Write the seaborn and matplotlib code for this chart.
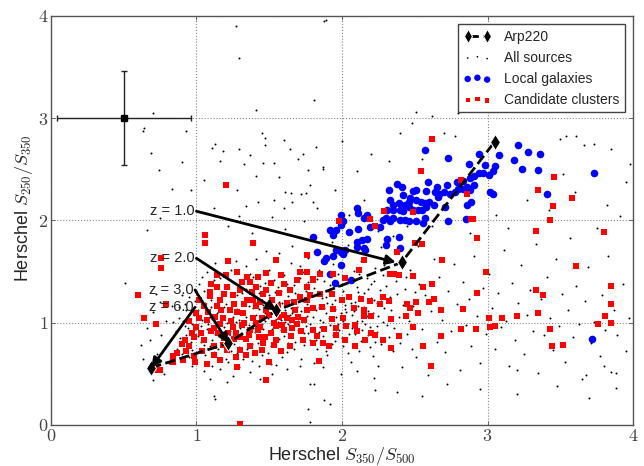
import numpy as np
import matplotlib
matplotlib.use("Agg")
import matplotlib.pyplot as plt
import seaborn as sns

# Arp220 redshift track (S350/S500, S250/S350)
arp_x = [0.69, 1.22, 1.55, 2.41, 3.05]
arp_y = [0.56, 0.80, 1.12, 1.59, 2.77]

# redshift labels: (label, start, end) of arrows
z_labels = ["z = 1.0", "z = 2.0", "z = 3.0", "z = 6.0"]
z_start = [(1.0, 2.09), (1.0, 1.63), (0.99, 1.32), (0.99, 1.15)]
z_end = [(2.37, 1.59), (1.55, 1.12), (1.22, 0.80), (0.69, 0.56)]

# typical error bar
err_pt = (0.50, 3.00)
err_xy = (0.46, 0.46)

local_galaxies = [
    (2.57, 2.69), (2.73, 2.61), (2.94, 2.65), (3.08, 2.64), (3.18, 2.59), (2.87, 2.55), (2.98, 2.54),
    (3.05, 2.53), (3.04, 2.48), (3.01, 2.44), (2.97, 2.46), (2.94, 2.46), (2.91, 2.43), (2.88, 2.41),
    (2.83, 2.39), (2.79, 2.38), (2.72, 2.35), (2.65, 2.33), (2.59, 2.38), (2.51, 2.30), (2.49, 2.29),
    (2.58, 2.29), (2.64, 2.28), (2.67, 2.26), (2.70, 2.28), (2.74, 2.26), (2.78, 2.28), (2.80, 2.31),
    (2.83, 2.31), (2.86, 2.33), (2.88, 2.30), (2.91, 2.35), (3.02, 2.28), (3.04, 2.26), (2.89, 2.18),
    (2.86, 2.15), (2.66, 2.23), (2.60, 2.18), (2.57, 2.17), (2.54, 2.18), (2.51, 2.20), (2.47, 2.22),
    (2.42, 2.25), (2.38, 2.36), (2.32, 2.30), (2.41, 2.33), (2.46, 2.18), (2.43, 2.15), (2.39, 2.17),
    (2.35, 2.15), (2.33, 2.20), (2.31, 2.10), (2.35, 2.10), (2.40, 2.10), (2.42, 2.09), (2.46, 2.13),
    (2.49, 2.10), (2.52, 2.10), (2.55, 2.10), (2.58, 2.13), (2.63, 2.15), (2.71, 2.13), (2.73, 1.99),
    (2.85, 2.01), (2.57, 2.02), (2.56, 1.97), (2.51, 1.99), (2.46, 1.99), (2.43, 2.00), (2.40, 2.00),
    (2.35, 2.02), (2.33, 1.99), (2.30, 2.02), (2.26, 1.94), (2.28, 2.00), (2.19, 1.94), (2.17, 2.05),
    (2.15, 2.02), (2.11, 2.07), (2.10, 2.12), (1.99, 2.05), (2.01, 1.99), (1.99, 1.96), (1.92, 1.91),
    (1.94, 1.86), (1.96, 1.91), (2.05, 1.89), (2.11, 1.92), (2.14, 1.81), (2.17, 1.82), (2.10, 1.79),
    (2.16, 1.71), (2.15, 1.73), (2.10, 1.74), (2.02, 1.71), (1.99, 1.69), (1.96, 1.71), (2.01, 1.67),
    (1.94, 1.65), (1.88, 1.60), (1.89, 1.63), (1.80, 1.84), (1.83, 1.69), (1.99, 1.56), (1.92, 1.48),
    (2.31, 1.82), (2.39, 1.84), (2.30, 1.76), (2.40, 1.73), (3.21, 2.74), (3.28, 2.67), (3.36, 2.65),
    (3.24, 2.50), (3.35, 2.49), (3.41, 2.26), (3.73, 2.46), (3.72, 0.84), (1.95, 1.39), (2.06, 1.42),
]

candidate_clusters = [
    (1.06, 1.86), (1.06, 1.78), (0.76, 1.63), (0.76, 1.53), (0.64, 1.05), (0.72, 0.99), (1.39, 1.78),
    (1.55, 1.61), (1.76, 1.66), (1.71, 1.50), (1.80, 1.43), (1.14, 1.47), (1.20, 1.47), (1.28, 1.50),
    (1.35, 1.45), (1.42, 1.45), (1.48, 1.49), (1.51, 1.39), (1.41, 1.35), (1.30, 1.32), (1.25, 1.27),
    (1.35, 1.22), (1.16, 1.22), (1.09, 1.26), (1.05, 1.16), (1.14, 1.16), (1.23, 1.12), (1.32, 1.09),
    (1.41, 1.16), (1.48, 1.12), (1.57, 1.06), (1.62, 1.19), (1.71, 1.25), (1.76, 1.12), (1.69, 0.99),
    (1.60, 0.93), (1.51, 0.90), (1.44, 0.96), (1.37, 0.93), (1.30, 0.86), (1.25, 0.96), (1.16, 0.99),
    (1.07, 1.03), (1.00, 0.96), (0.98, 0.86), (1.05, 0.83), (1.12, 0.77), (1.21, 0.73), (1.30, 0.73),
    (1.37, 0.77), (1.46, 0.80), (1.55, 0.83), (1.64, 0.77), (1.73, 0.83), (1.80, 0.93), (0.84, 0.67),
    (0.91, 0.64), (0.98, 0.67), (1.07, 0.60), (1.16, 0.64), (1.28, 0.57), (0.75, 0.54), (1.48, 0.44),
    (1.80, 0.80), (1.02, 1.22), (1.00, 1.09), (1.21, 1.35), (1.14, 1.35), (1.57, 1.29), (1.39, 1.22),
    (1.64, 1.32), (1.76, 1.35), (0.60, 1.27), (0.79, 1.18), (0.99, 0.62), (1.30, 0.01), (0.90, 0.79),
    (0.84, 0.62), (0.72, 0.54), (0.92, 0.83), (0.87, 0.70), (1.20, 2.35), (2.62, 2.80), (2.54, 2.48),
    (2.82, 2.40), (2.86, 2.26), (2.89, 2.01), (2.93, 1.83), (1.98, 1.99), (2.19, 2.01), (2.29, 2.09),
    (2.49, 2.08), (2.23, 1.95), (3.35, 2.30), (3.46, 2.42), (3.58, 2.22), (3.45, 2.14), (3.43, 2.00),
    (3.33, 1.90), (3.80, 1.89), (2.69, 1.61), (2.99, 1.50), (3.61, 1.55), (3.85, 1.36), (3.33, 1.32),
    (3.38, 1.27), (2.93, 1.29), (2.83, 1.13), (2.68, 1.12), (2.63, 1.23), (2.56, 1.35), (2.62, 1.38),
    (2.49, 1.46), (2.60, 1.20), (2.51, 1.20), (2.45, 1.18), (2.47, 1.14), (2.52, 1.09), (2.44, 1.07),
    (2.34, 1.04), (2.32, 1.21), (2.26, 1.18), (2.28, 1.25), (2.20, 1.07), (2.15, 1.12), (2.19, 1.21),
    (2.13, 1.23), (3.01, 1.05), (3.10, 1.05), (3.20, 1.07), (3.35, 1.09), (3.76, 0.99), (3.85, 1.00),
    (3.81, 1.07), (3.85, 1.18), (3.43, 0.94), (3.44, 0.77), (3.52, 0.78), (3.02, 0.96), (3.05, 0.97),
    (2.92, 0.94), (2.82, 0.94), (2.68, 0.87), (2.56, 0.77), (2.61, 0.58), (2.49, 0.96), (2.39, 0.87),
    (2.34, 0.75), (2.28, 0.83), (2.23, 0.88), (2.20, 0.90), (2.16, 0.83), (2.10, 0.92), (2.09, 0.77),
    (2.02, 0.83), (1.96, 0.88), (1.91, 0.77), (1.84, 0.63), (1.87, 0.80), (1.83, 0.87), (1.88, 0.94),
    (1.96, 0.95), (2.03, 0.97), (2.09, 0.98), (2.15, 1.07), (2.08, 1.14), (2.01, 1.05), (1.94, 1.13),
    (1.93, 1.04), (1.86, 1.15), (1.80, 1.14), (1.76, 1.22), (1.78, 1.27), (1.85, 1.28), (1.93, 1.28),
    (2.00, 1.22), (2.05, 1.25), (2.33, 1.48), (2.36, 1.48), (2.39, 1.47), (2.15, 1.61), (2.12, 1.52),
    (2.02, 1.44), (1.94, 1.48), (1.85, 1.48), (1.76, 1.50), (1.80, 1.42), (2.50, 1.78), (2.55, 1.77),
    (2.38, 1.69), (2.42, 1.59), (2.90, 2.01), (1.10, 0.92), (1.18, 1.05), (1.26, 1.18), (1.33, 1.00),
    (1.45, 1.05), (1.53, 1.00), (1.60, 1.08), (1.68, 1.12), (1.72, 0.92), (1.65, 0.87), (1.43, 0.86),
    (1.34, 0.84), (1.19, 0.85), (1.27, 0.66), (1.40, 0.70), (1.58, 0.72), (1.52, 1.22), (1.60, 1.38),
    (1.69, 1.42), (1.37, 1.40), (1.22, 1.60), (1.10, 1.38), (1.04, 0.72), (0.95, 1.02), (0.93, 0.72),
    (1.46, 1.28), (1.66, 1.03), (1.13, 1.06), (1.55, 0.97), (1.50, 0.62),
    (1.03, 0.90), (1.08, 1.10), (1.12, 0.95), (1.17, 1.12), (1.22, 0.90), (1.24, 1.02), (1.28, 1.10),
    (1.31, 0.98), (1.33, 1.18), (1.36, 0.88), (1.39, 1.05), (1.42, 0.93), (1.44, 1.20), (1.47, 0.86),
    (1.50, 1.08), (1.53, 0.78), (1.56, 1.16), (1.59, 0.98), (1.62, 1.05), (1.66, 0.95), (1.70, 1.06),
    (1.18, 0.78), (1.26, 0.84), (1.34, 0.68), (1.45, 0.73), (1.02, 1.05), (0.97, 0.90), (1.09, 1.30),
    (1.19, 1.28), (1.31, 1.40), (1.48, 1.32), (1.58, 1.47), (1.67, 1.20), (1.74, 1.03), (1.12, 0.68),
    (0.95, 0.77), (1.38, 1.30), (1.27, 0.90), (1.15, 0.90), (1.41, 1.00),
]

all_sources = [
    # dense core, x 0.85 - 1.3
    (0.86, 0.92), (0.88, 1.05), (0.91, 0.78), (0.93, 1.12), (0.95, 0.66), (0.97, 0.99), (0.99, 1.21),
    (1.01, 0.87), (1.02, 0.72), (1.04, 1.03), (1.05, 1.31), (1.07, 0.94), (1.08, 0.61), (1.10, 1.15),
    (1.11, 0.83), (1.12, 1.42), (1.14, 0.97), (1.15, 0.74), (1.16, 1.24), (1.18, 0.88), (1.19, 1.07),
    (1.20, 0.65), (1.22, 1.36), (1.23, 0.92), (1.24, 1.14), (1.26, 0.79), (1.27, 1.01), (1.28, 1.27),
    (1.29, 0.57), (1.30, 0.95), (0.89, 0.85), (0.92, 1.18), (0.94, 0.95), (0.96, 0.81), (0.98, 1.08),
    (1.00, 0.70), (1.03, 0.97), (1.06, 1.19), (1.09, 0.77), (1.11, 1.04), (1.13, 0.89), (1.17, 1.01),
    (1.21, 0.83), (1.25, 1.06), (1.28, 0.70), (1.31, 1.17), (0.84, 1.01), (0.87, 0.74), (0.90, 1.27),
    (1.02, 1.38), (1.07, 1.50), (1.13, 1.58), (1.18, 1.46), (1.24, 1.52), (1.05, 0.53), (1.16, 0.55),
    (1.25, 0.48), (0.97, 0.58), (1.21, 0.42), (1.09, 0.45),
    # dense core, x 1.3 - 1.8
    (1.32, 0.86), (1.33, 1.10), (1.34, 1.33), (1.35, 0.74), (1.36, 0.98), (1.37, 1.21), (1.38, 0.63),
    (1.39, 1.45), (1.40, 0.91), (1.41, 1.08), (1.42, 0.80), (1.43, 1.29), (1.44, 1.02), (1.45, 0.68),
    (1.46, 1.17), (1.47, 1.39), (1.48, 0.88), (1.49, 1.05), (1.50, 1.52), (1.51, 0.77), (1.52, 1.24),
    (1.53, 0.96), (1.54, 1.11), (1.55, 0.59), (1.56, 1.35), (1.57, 0.84), (1.58, 1.03), (1.59, 1.19),
    (1.60, 1.47), (1.61, 0.92), (1.62, 0.71), (1.63, 1.26), (1.64, 1.08), (1.65, 1.58), (1.66, 0.97),
    (1.67, 1.37), (1.68, 0.81), (1.69, 1.15), (1.70, 1.02), (1.71, 1.44), (1.72, 0.65), (1.73, 1.21),
    (1.74, 0.90), (1.75, 1.31), (1.76, 1.07), (1.77, 1.63), (1.78, 0.83), (1.79, 1.16), (1.34, 1.55),
    (1.37, 0.52), (1.41, 1.62), (1.44, 0.45), (1.48, 1.70), (1.52, 0.50), (1.57, 1.68), (1.62, 0.55),
    (1.66, 1.75), (1.71, 0.58), (1.36, 1.16), (1.39, 0.95), (1.43, 1.13), (1.46, 0.94), (1.51, 1.14),
    (1.54, 1.30), (1.58, 0.93), (1.61, 1.12), (1.65, 1.22), (1.68, 1.00), (1.72, 1.11), (1.75, 0.97),
    (1.78, 1.25), (1.33, 0.98), (1.47, 1.02), (1.56, 1.01), (1.63, 0.99), (1.70, 1.28), (1.73, 1.50),
    (1.77, 1.40),
    # dense core, x 1.8 - 2.3
    (1.80, 0.95), (1.81, 1.34), (1.82, 1.12), (1.83, 0.74), (1.84, 1.52), (1.85, 1.03), (1.86, 1.24),
    (1.87, 0.87), (1.88, 1.41), (1.89, 1.09), (1.90, 0.68), (1.91, 1.30), (1.92, 0.98), (1.93, 1.18),
    (1.94, 1.57), (1.95, 0.82), (1.96, 1.06), (1.97, 1.36), (1.98, 0.93), (1.99, 1.21), (2.00, 1.66),
    (2.01, 0.77), (2.02, 1.13), (2.03, 1.45), (2.04, 0.99), (2.05, 1.27), (2.06, 0.62), (2.07, 1.08),
    (2.08, 1.51), (2.09, 0.89), (2.10, 1.35), (2.11, 1.16), (2.12, 0.72), (2.13, 1.60), (2.14, 1.02),
    (2.15, 1.29), (2.16, 0.85), (2.17, 1.44), (2.18, 1.11), (2.19, 0.96), (2.20, 1.38), (2.21, 0.67),
    (2.22, 1.22), (2.23, 1.53), (2.24, 0.91), (2.25, 1.07), (2.26, 1.32), (2.27, 0.79), (2.28, 1.47),
    (2.29, 1.14), (1.82, 1.71), (1.87, 0.57), (1.93, 1.79), (1.99, 0.50), (2.04, 1.76), (2.10, 0.53),
    (2.16, 1.68), (2.22, 0.46), (2.27, 1.74), (1.84, 0.91), (1.89, 1.25), (1.95, 1.13), (2.01, 1.02),
    (2.06, 1.19), (2.12, 1.26), (2.18, 0.88), (2.24, 1.19), (1.83, 1.43), (1.97, 1.48), (2.09, 1.42),
    # dense core, second pass
    (0.91, 1.02), (0.93, 0.88), (0.95, 1.25), (0.97, 0.73), (0.99, 0.94), (1.01, 1.12), (1.03, 0.81),
    (1.04, 1.45), (1.06, 0.68), (1.08, 0.99), (1.10, 1.22), (1.12, 0.71), (1.14, 1.09), (1.15, 1.35),
    (1.17, 0.80), (1.19, 0.96), (1.20, 1.18), (1.22, 0.62), (1.23, 1.04), (1.25, 1.40), (1.26, 0.89),
    (1.28, 1.13), (1.29, 0.76), (1.31, 1.29), (1.32, 0.65), (1.34, 1.06), (1.35, 0.92), (1.37, 1.48),
    (1.38, 0.79), (1.40, 1.20), (1.41, 0.97), (1.43, 0.58), (1.44, 1.36), (1.46, 0.83), (1.47, 1.09),
    (1.49, 0.70), (1.50, 1.27), (1.52, 0.94), (1.53, 1.42), (1.55, 0.81), (1.56, 1.07), (1.58, 1.31),
    (1.59, 0.66), (1.61, 1.01), (1.62, 1.38), (1.64, 0.87), (1.65, 1.14), (1.67, 0.74), (1.68, 1.29),
    (1.70, 0.93), (1.71, 1.55), (1.73, 1.04), (1.74, 0.78), (1.76, 1.18), (1.77, 0.90), (1.79, 1.44),
    (1.80, 1.06), (1.82, 0.83), (1.83, 1.27), (1.85, 0.96), (1.86, 1.61), (1.88, 1.14), (1.89, 0.72),
    (1.91, 1.05), (1.92, 1.37), (1.94, 0.88), (1.95, 1.22), (1.97, 0.99), (1.98, 1.55), (2.00, 0.85),
    (2.01, 1.31), (2.03, 1.10), (2.04, 0.70), (2.06, 1.41), (2.07, 0.95), (2.09, 1.20), (2.10, 1.02),
    (2.12, 1.48), (2.13, 0.82), (2.15, 1.15), (2.16, 0.99), (2.18, 1.33), (2.19, 0.76), (2.21, 1.09),
    (2.22, 1.41), (2.24, 0.97), (2.25, 0.58), (2.27, 1.21), (2.28, 1.01), (2.30, 1.36), (2.32, 0.86),
    (2.34, 1.12), (2.36, 0.95), (2.38, 1.28), (2.40, 0.80), (2.42, 1.17), (2.44, 1.45), (2.46, 1.02),
    (2.48, 0.74), (2.50, 1.30), (0.88, 1.15), (0.90, 0.69), (0.92, 0.97), (1.00, 1.31), (1.05, 0.78),
    (1.11, 0.58), (1.16, 1.44), (1.21, 1.00), (1.27, 1.60), (1.33, 0.85), (1.39, 1.14), (1.45, 0.99),
    (1.51, 0.60), (1.57, 1.20), (1.63, 0.80), (1.69, 1.06), (1.75, 1.38), (1.81, 0.61), (1.87, 1.01),
    (1.93, 0.79), (1.99, 1.09), (2.05, 0.89), (2.11, 1.30), (2.17, 1.07), (2.23, 0.81), (2.29, 1.56),
    (1.24, 0.72), (1.36, 1.24), (1.48, 1.17), (1.60, 0.87), (1.72, 1.24), (1.84, 1.15), (1.96, 0.91),
    (2.08, 1.11), (2.20, 1.24), (2.32, 1.04), (1.09, 1.06), (1.19, 1.15), (1.29, 1.03), (1.42, 1.23),
    (1.54, 1.03), (1.66, 1.09), (1.78, 0.99), (1.90, 1.19), (2.02, 1.17), (2.14, 0.93),
    # right halo
    (2.31, 0.98), (2.33, 1.25), (2.35, 0.72), (2.37, 1.41), (2.39, 1.06), (2.41, 0.57), (2.43, 1.33),
    (2.45, 0.89), (2.47, 1.52), (2.49, 1.16), (2.51, 0.66), (2.53, 1.38), (2.55, 0.94), (2.57, 1.27),
    (2.59, 0.49), (2.61, 1.11), (2.63, 1.62), (2.65, 0.81), (2.67, 1.45), (2.69, 1.03), (2.71, 0.71),
    (2.73, 1.31), (2.75, 0.92), (2.77, 1.57), (2.79, 1.18), (2.81, 0.54), (2.83, 1.40), (2.85, 0.98),
    (2.87, 1.23), (2.89, 0.77), (2.91, 1.65), (2.93, 1.07), (2.95, 0.61), (2.97, 1.34), (2.99, 0.89),
    (3.01, 1.48), (3.03, 1.14), (3.05, 0.74), (3.07, 1.29), (3.09, 0.96), (3.11, 1.71), (3.13, 1.02),
    (3.15, 0.58), (3.17, 1.39), (3.19, 0.83), (3.21, 1.19), (3.23, 1.56), (3.25, 0.69), (3.27, 1.08),
    (3.29, 1.32), (3.31, 0.92), (3.33, 1.77), (3.35, 0.51), (3.37, 1.23), (3.39, 0.88), (3.41, 1.45),
    (3.43, 1.05), (3.45, 0.73), (3.47, 1.62), (3.49, 0.97), (3.51, 1.28), (3.53, 0.62), (3.55, 1.12),
    (3.57, 1.83), (3.59, 0.86), (3.61, 1.36), (3.63, 0.99), (3.65, 0.45), (3.67, 1.21), (3.69, 1.54),
    (3.71, 0.80), (3.73, 1.01), (3.75, 1.93), (3.77, 0.67), (3.79, 1.27), (3.81, 0.93), (3.83, 1.65),
    (3.85, 0.52), (3.87, 1.12), (3.89, 0.88), (3.91, 2.04), (3.93, 1.38), (3.95, 0.72), (3.97, 1.05),
    (2.38, 0.32), (2.55, 0.28), (2.72, 0.40), (2.95, 0.35), (3.20, 0.30), (3.48, 0.38), (3.70, 0.26),
    (3.88, 0.36), (2.62, 1.95), (2.88, 1.88), (3.14, 1.93), (3.42, 2.10), (3.60, 2.28), (3.82, 2.15),
    (3.95, 2.38), (3.52, 2.45), (3.27, 2.20), (3.06, 2.05), (3.73, 2.75), (3.85, 2.70), (3.50, 2.80),
    (3.98, 2.55), (3.54, 2.83), (3.61, 2.83), (3.66, 2.74), (3.68, 0.49), (3.80, 0.58), (3.88, 0.51),
    (3.20, 0.54),
    # upper region
    (1.05, 2.40), (1.12, 2.12), (1.18, 2.68), (1.22, 1.95), (1.28, 2.30), (1.33, 2.55), (1.38, 1.88),
    (1.42, 2.18), (1.47, 2.74), (1.52, 2.03), (1.57, 2.42), (1.61, 1.92), (1.65, 2.27), (1.70, 2.60),
    (1.74, 1.99), (1.78, 2.35), (1.83, 2.12), (1.87, 2.52), (1.91, 1.93), (1.95, 2.30), (2.00, 2.78),
    (2.05, 2.05), (2.10, 2.48), (2.15, 2.20), (2.20, 2.65), (2.25, 1.90), (2.32, 2.58), (2.40, 2.85),
    (2.48, 2.95), (2.55, 2.60), (2.62, 3.02), (2.70, 2.85), (2.80, 3.05), (2.35, 1.85), (2.45, 1.95),
    (2.52, 1.75), (2.51, 3.06), (2.78, 2.83), (1.89, 3.96),
    # sparse left and top
    (0.70, 3.05), (0.63, 2.87), (0.64, 2.90), (0.69, 2.66), (0.74, 2.49), (0.83, 2.31), (0.90, 2.57),
    (0.93, 2.87), (0.96, 2.30), (0.75, 2.02), (0.66, 1.91), (1.27, 3.90), (1.29, 3.59), (1.81, 3.18),
    (1.41, 3.08), (1.11, 2.71), (1.13, 2.75), (1.16, 2.58), (1.29, 2.70), (1.37, 2.64), (1.45, 2.85),
    (1.47, 2.81), (1.60, 2.79), (1.64, 2.70), (1.73, 2.65), (1.82, 2.72), (1.88, 3.95), (1.46, 2.56),
    (1.53, 2.56), (1.77, 2.49), (1.87, 2.50), (1.41, 2.43), (1.61, 2.28), (1.72, 2.26), (1.75, 2.27),
    (1.80, 2.18), (1.66, 2.18), (1.53, 2.20), (1.60, 2.12), (1.34, 2.14), (1.29, 2.04),
    # sparse left and bottom
    (0.51, 1.39), (0.63, 0.65), (0.70, 0.44), (1.12, 0.28), (1.13, 0.25), (1.78, 0.03), (1.77, 0.16),
    (1.92, 0.21), (1.88, 0.24), (1.78, 0.40), (1.81, 0.40), (2.23, 0.34), (0.62, 0.78), (0.66, 0.95),
    (0.70, 1.10), (0.73, 0.69), (0.76, 0.88), (0.79, 1.02), (0.81, 0.61), (0.83, 1.16), (0.72, 1.28),
    (0.78, 0.50), (0.68, 0.83), (0.75, 1.20),
]


def main():
    sns.set_style("ticks", {"xtick.direction": "in", "ytick.direction": "in"})
    plt.rcParams["mathtext.fontset"] = "cm"
    plt.rcParams["font.family"] = ["Liberation Sans", "DejaVu Sans"]

    fig = plt.figure(figsize=(6.44, 4.66), dpi=100)
    ax = fig.add_axes([0.079, 0.088, 0.904, 0.878])

    src = np.array(all_sources)
    gal = np.array(local_galaxies)
    clu = np.array(candidate_clusters)

    sns.scatterplot(x=src[:, 0], y=src[:, 1], ax=ax, color="k", s=2, marker="o",
                    linewidth=0, zorder=2, legend=False)
    h_src = ax.collections[-1]
    sns.scatterplot(x=gal[:, 0], y=gal[:, 1], ax=ax, color="#0000ff", s=30, marker="o",
                    linewidth=0, zorder=3, legend=False)
    h_gal = ax.collections[-1]
    sns.scatterplot(x=clu[:, 0], y=clu[:, 1], ax=ax, color="#ff0000", s=13, marker="s",
                    linewidth=0, zorder=4, legend=False)
    h_clu = ax.collections[-1]

    # Arp220 track
    sns.lineplot(x=arp_x, y=arp_y, ax=ax, sort=False, estimator=None, color="k",
                 linestyle="--", linewidth=2, marker="d", markersize=8, zorder=6)
    h_arp = ax.lines[-1]

    # redshift arrows
    for lab, (x0, y0), (x1, y1) in zip(z_labels, z_start, z_end):
        ax.annotate("", xy=(x1, y1), xytext=(x0, y0),
                    arrowprops=dict(arrowstyle="-|>", color="k", lw=2,
                                    mutation_scale=14, shrinkA=0, shrinkB=0),
                    zorder=7)
        ax.text(x0 - 0.01, y0, lab, ha="right", va="center", fontsize=10.5, zorder=8)

    # typical error bar
    ax.errorbar(err_pt[0], err_pt[1], xerr=err_xy[0], yerr=err_xy[1], fmt="s",
                color="k", ms=4, ecolor="#222222", elinewidth=1, capsize=2.5, capthick=1)

    ax.set_xlim(0, 4)
    ax.set_ylim(0, 4)
    ticks = [0, 1, 2, 3, 4]
    ax.set_xticks(ticks)
    ax.set_yticks(ticks)
    ax.set_xticklabels([f"${t}$" for t in ticks], fontsize=13, color="#444444")
    ax.set_yticklabels([f"${t}$" for t in ticks], fontsize=13, color="#444444")
    ax.tick_params(length=3, width=0.6, color="#555555", pad=2, top=True, right=True)
    ax.grid(True, linestyle=":", color="#888888", linewidth=0.8)
    for sp in ax.spines.values():
        sp.set_color("#555555")
        sp.set_linewidth(1.0)

    ax.set_xlabel("Herschel $S_{350}/S_{500}$", fontsize=13)
    ax.set_ylabel("Herschel $S_{250}/S_{350}$", fontsize=13)
    ax.xaxis.set_label_coords(0.5, -0.05)
    ax.yaxis.set_label_coords(-0.027, 0.53)

    leg = ax.legend([h_arp, h_src, h_gal, h_clu],
                    ["Arp220", "All sources", "Local galaxies", "Candidate clusters"],
                    loc="upper right", fontsize=10, numpoints=2, scatterpoints=3,
                    markerscale=0.85, fancybox=False, framealpha=1, edgecolor="#444444",
                    borderaxespad=0.6, handlelength=2.0, handletextpad=0.9)
    leg.get_frame().set_linewidth(1.0)

    fig.savefig("out.png", dpi=100)
    plt.close(fig)


if __name__ == "__main__":
    main()
